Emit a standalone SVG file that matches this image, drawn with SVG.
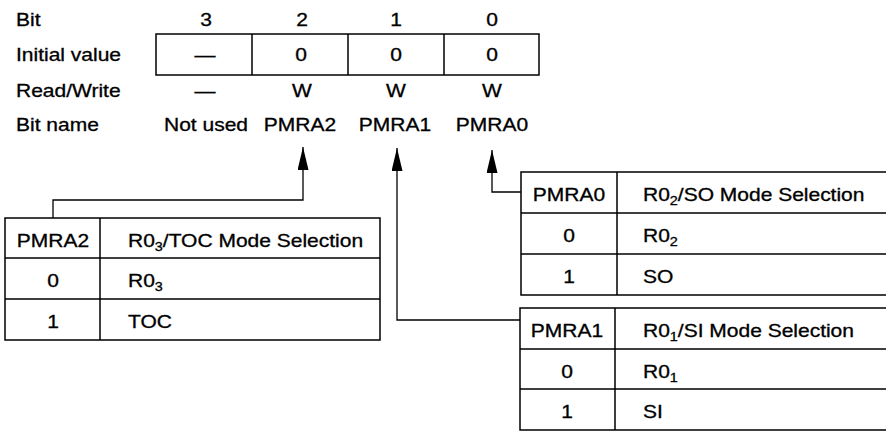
<svg xmlns="http://www.w3.org/2000/svg" width="886" height="433" viewBox="0 0 886 433">
<style>
text{font-family:"Liberation Sans",Arial,Helvetica,sans-serif;font-size:17.5px;fill:#000;stroke:#000;stroke-width:0.3}
.c{text-anchor:middle}
.b{fill:none;stroke:#000;stroke-width:1.5}
.ln{fill:none;stroke:#000;stroke-width:1.3}
.sub{font-size:12px}
</style>
<defs>
<marker id="ah" viewBox="0 0 23 11" refX="23" refY="5.5" markerWidth="23" markerHeight="11" markerUnits="userSpaceOnUse" orient="auto">
<path d="M0 0 L23 5.5 L0 11 Z" fill="#000"/>
</marker>
</defs>
<rect width="886" height="433" fill="#fff"/>

<g id="register">
<text transform="translate(16 26) scale(1.2 1)">Bit</text>
<text transform="translate(16 61) scale(1.2 1)">Initial value</text>
<text transform="translate(16 97) scale(1.2 1)">Read/Write</text>
<text transform="translate(16 131) scale(1.2 1)">Bit name</text>
<text class="c" transform="translate(206 26) scale(1.2 1)">3</text>
<text class="c" transform="translate(302 26) scale(1.2 1)">2</text>
<text class="c" transform="translate(396 26) scale(1.2 1)">1</text>
<text class="c" transform="translate(492 26) scale(1.2 1)">0</text>
<rect class="b" x="156" y="34" width="383" height="41"/>
<path class="b" d="M252 34V75M348 34V75M444 34V75"/>
<text class="c" transform="translate(205 61) scale(1.2 1)">—</text>
<text class="c" transform="translate(301 61) scale(1.2 1)">0</text>
<text class="c" transform="translate(396 61) scale(1.2 1)">0</text>
<text class="c" transform="translate(492 61) scale(1.2 1)">0</text>
<text class="c" transform="translate(205 97) scale(1.2 1)">—</text>
<text class="c" transform="translate(302 97) scale(1.2 1)">W</text>
<text class="c" transform="translate(396 97) scale(1.2 1)">W</text>
<text class="c" transform="translate(492 97) scale(1.2 1)">W</text>
<text class="c" transform="translate(206 131) scale(1.2 1)">Not used</text>
<text class="c" transform="translate(300 131) scale(1.2 1)">PMRA2</text>
<text class="c" transform="translate(395 131) scale(1.2 1)">PMRA1</text>
<text class="c" transform="translate(492 131) scale(1.2 1)">PMRA0</text>
</g>

<g id="connectors">
<path class="ln" d="M53 218V200H303V147" marker-end="url(#ah)"/>
<path class="ln" d="M520 320H397V148" marker-end="url(#ah)"/>
<path class="ln" d="M521 192H492V150" marker-end="url(#ah)"/>
</g>

<g id="table-pmra2">
<path class="b" d="M5 218H380V340H5Z M100 218V340 M5 258H380 M5 299H380"/>
<text class="c" transform="translate(53 247) scale(1.2 1)">PMRA2</text>
<text transform="translate(128 247) scale(1.2 1)">R0<tspan class="sub" dy="4">3</tspan><tspan dy="-4">/TOC Mode Selection</tspan></text>
<text class="c" transform="translate(53 287) scale(1.2 1)">0</text>
<text transform="translate(128 287) scale(1.2 1)">R0<tspan class="sub" dy="4">3</tspan></text>
<text class="c" transform="translate(53 328) scale(1.2 1)">1</text>
<text transform="translate(128 328) scale(1.2 1)">TOC</text>
</g>

<g id="table-pmra0">
<path class="b" d="M890 172H521V295H890 M617 172V295 M521 213H890 M521 254H890"/>
<text class="c" transform="translate(569 201) scale(1.2 1)">PMRA0</text>
<text transform="translate(643 201) scale(1.2 1)">R0<tspan class="sub" dy="4">2</tspan><tspan dy="-4">/SO Mode Selection</tspan></text>
<text class="c" transform="translate(569 242) scale(1.2 1)">0</text>
<text transform="translate(643 242) scale(1.2 1)">R0<tspan class="sub" dy="4">2</tspan></text>
<text class="c" transform="translate(569 283) scale(1.2 1)">1</text>
<text transform="translate(643 283) scale(1.2 1)">SO</text>
</g>

<g id="table-pmra1">
<path class="b" d="M890 308H520V430H890 M615 308V430 M520 349H890 M520 389H890"/>
<text class="c" transform="translate(567 337) scale(1.2 1)">PMRA1</text>
<text transform="translate(643 337) scale(1.2 1)">R0<tspan class="sub" dy="4">1</tspan><tspan dy="-4">/SI Mode Selection</tspan></text>
<text class="c" transform="translate(567 378) scale(1.2 1)">0</text>
<text transform="translate(643 378) scale(1.2 1)">R0<tspan class="sub" dy="4">1</tspan></text>
<text class="c" transform="translate(567 418) scale(1.2 1)">1</text>
<text transform="translate(643 418) scale(1.2 1)">SI</text>
</g>
</svg>
